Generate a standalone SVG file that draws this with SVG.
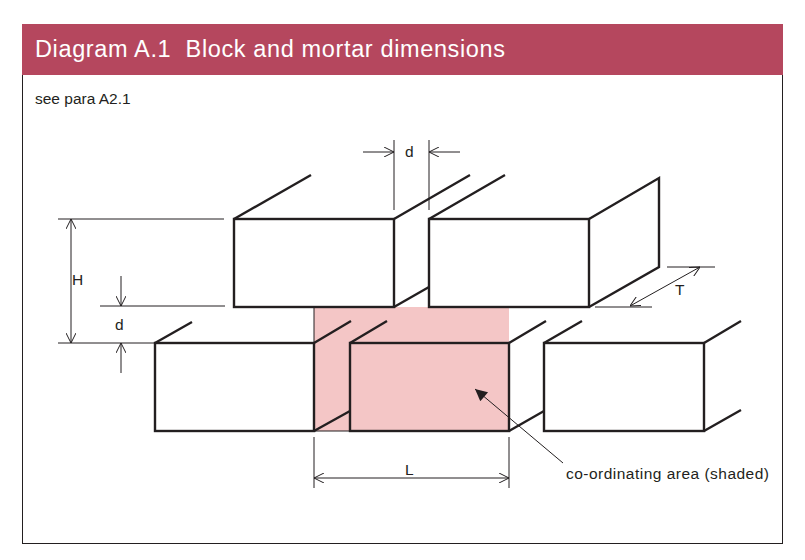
<svg xmlns="http://www.w3.org/2000/svg" width="805" height="560" viewBox="0 0 805 560">
<defs>
<style>
.b{fill:none;stroke:#231f20;stroke-width:2.4;stroke-linejoin:miter}
.t{fill:none;stroke:#231f20;stroke-width:1}
.txt{font-family:"Liberation Sans",Arial,sans-serif;fill:#231f20;font-size:15.5px}
</style>
<marker id="oa" viewBox="0 0 10 10" refX="10" refY="5" markerWidth="10" markerHeight="10" markerUnits="userSpaceOnUse" orient="auto-start-reverse"><path d="M0,0 L10,5 L0,10" fill="none" stroke="#231f20" stroke-width="1"/></marker>
<marker id="fa" viewBox="0 0 10 10" refX="10" refY="5" markerWidth="16" markerHeight="12" markerUnits="userSpaceOnUse" orient="auto"><path d="M0,0 L10,5 L0,10 Z" fill="#231f20"/></marker>
</defs>
<rect x="0" y="0" width="805" height="560" fill="#fff"/>
<rect x="22.5" y="24.5" width="760" height="519" fill="none" stroke="#231f20" stroke-width="1"/>
<g id="header">
<rect x="22" y="24" width="761" height="51" fill="#b5475e"/>
<text x="35" y="57" font-family="Liberation Sans,Arial,sans-serif" font-size="23.5" fill="#fff" xml:space="preserve" textLength="470" lengthAdjust="spacing">Diagram A.1  Block and mortar dimensions</text>
</g>
<text class="txt" x="35" y="104" font-size="13">see para A2.1</text>
<g id="shaded"><rect x="314" y="307" width="195" height="124" fill="#f4c6c6"/><path class="t" d="M314,307V343M314,431H350"/></g>
<g id="block-top-left"><rect class="b" x="234" y="219" width="160" height="88" fill="#fff"/><path class="b" d="M234,219L311,175"/></g>
<g id="joint"><path class="b" d="M394,219L470,175M429,219L505,175M394,307L429,287"/></g>
<g id="block-top-right"><rect class="b" x="429" y="219" width="160" height="88" fill="#fff"/><path class="b" d="M589,219L659,178V267L589,307"/></g>
<g id="block-bottom-left"><rect class="b" x="155" y="343" width="159" height="88"/><path class="b" d="M155,343L192,322M314,343L351,321M314,431L350,411"/></g>
<g id="block-bottom-mid"><rect class="b" x="350" y="343" width="159" height="88"/><path class="b" d="M350,343L387,321M509,343L546,321M509,431L544,411"/></g>
<g id="block-bottom-right"><rect class="b" x="544" y="343" width="160" height="88"/><path class="b" d="M544,343L582,321M704,343L741,321M704,431L741,410"/></g>
<g id="connectors">
<path class="t" d="M394,140V210M429,140V210"/>
<path class="t" d="M363,152H394" marker-end="url(#oa)"/>
<path class="t" d="M460,152H429" marker-end="url(#oa)"/>
<path class="t" d="M58,219H224M58,343H155M100,306H225"/>
<path class="t" d="M71,219V343" marker-start="url(#oa)" marker-end="url(#oa)"/>
<path class="t" d="M121,276V306" marker-end="url(#oa)"/>
<path class="t" d="M121,373V343" marker-end="url(#oa)"/>
<path class="t" d="M667,267H715M595,307H652"/>
<path class="t" d="M630,306L700,267" marker-start="url(#oa)" marker-end="url(#oa)"/>
<path class="t" d="M314,437V488M509,437V488"/>
<path class="t" d="M314,478H509" marker-start="url(#oa)" marker-end="url(#oa)"/>
<path class="t" d="M563,463L475,389" marker-end="url(#fa)"/>
</g>
<g id="labels">
<text class="txt" x="405" y="157">d</text>
<text class="txt" x="72" y="285">H</text>
<text class="txt" x="115" y="330">d</text>
<text class="txt" x="675" y="295">T</text>
<text class="txt" x="405" y="475">L</text>
<text class="txt" x="566" y="479" textLength="203" lengthAdjust="spacing">co-ordinating area (shaded)</text>
</g>
</svg>
